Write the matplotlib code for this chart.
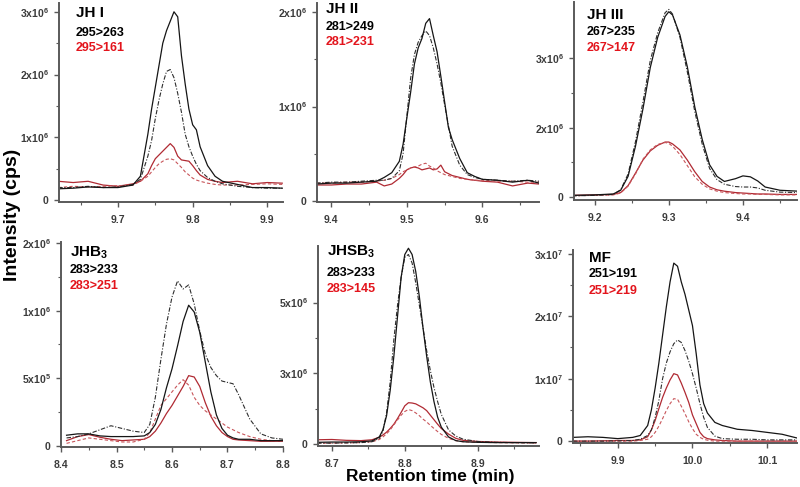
import matplotlib
matplotlib.use("Agg")
import matplotlib.pyplot as plt
from matplotlib.ticker import FixedLocator, FixedFormatter, MultipleLocator

# ── Figure geometry (pixels) ──────────────────────────────────────────────────

W, H = 800, 487

plt.rcParams["font.family"] = ["Liberation Sans", "DejaVu Sans"]
plt.rcParams["mathtext.fontset"] = "custom"
plt.rcParams["mathtext.rm"] = "Liberation Sans:bold"
plt.rcParams["mathtext.it"] = "Liberation Sans:bold"
plt.rcParams["mathtext.bf"] = "Liberation Sans:bold"

BLACK    = "#151515"
BLACK_D  = "#2e2e2e"
RED      = "#b02a33"
RED_D    = "#c8555a"
RED_TEXT = "#e3141c"
AXIS_COL = "#5a5a5a"
TICK_COL = "#3c3c3c"

# ── Data (intensity in units of 10^6 cps, time in min) ───────────────────────

# JH I  (295>263 black, 295>161 red)
jh1_t = [9.62, 9.64, 9.66, 9.68, 9.70, 9.72, 9.73, 9.74, 9.745, 9.75, 9.755,
         9.76, 9.765, 9.77, 9.775, 9.78, 9.785, 9.79, 9.795, 9.80, 9.805,
         9.81, 9.82, 9.83, 9.84, 9.86, 9.88, 9.90, 9.92]
jh1_std_q = [0.18, 0.19, 0.21, 0.20, 0.20, 0.24, 0.38, 1.05, 1.45, 1.80, 2.15,
             2.50, 2.70, 2.85, 3.00, 2.92, 2.30, 1.85, 1.45, 1.20, 1.12,
             0.85, 0.55, 0.38, 0.30, 0.25, 0.20, 0.20, 0.19]
jh1_smp_q = [0.20, 0.20, 0.22, 0.20, 0.21, 0.25, 0.33, 0.70, 0.95, 1.30, 1.60,
             1.85, 2.05, 2.08, 1.95, 1.70, 1.40, 1.05, 0.85, 0.70, 0.57,
             0.47, 0.36, 0.30, 0.26, 0.22, 0.20, 0.19, 0.19]
jh1_std_c = [0.30, 0.28, 0.30, 0.24, 0.22, 0.26, 0.30, 0.42, 0.55, 0.66, 0.72,
             0.78, 0.84, 0.90, 0.84, 0.70, 0.64, 0.63, 0.62, 0.55, 0.47,
             0.40, 0.33, 0.30, 0.28, 0.30, 0.26, 0.28, 0.27]
jh1_smp_c = [0.20, 0.22, 0.21, 0.22, 0.23, 0.24, 0.30, 0.38, 0.45, 0.52, 0.58,
             0.62, 0.65, 0.66, 0.64, 0.58, 0.52, 0.45, 0.40, 0.35, 0.32,
             0.30, 0.27, 0.25, 0.24, 0.24, 0.25, 0.26, 0.25]

# JH II  (281>249 black, 281>231 red)
jh2_t = [9.38, 9.40, 9.42, 9.44, 9.46, 9.47, 9.48, 9.49, 9.495, 9.50, 9.505,
         9.51, 9.515, 9.52, 9.525, 9.53, 9.535, 9.54, 9.545, 9.55, 9.555,
         9.56, 9.57, 9.58, 9.59, 9.60, 9.62, 9.64, 9.66, 9.675]
jh2_std_q = [0.18, 0.19, 0.19, 0.20, 0.21, 0.25, 0.30, 0.42, 0.60, 0.88, 1.15,
             1.45, 1.62, 1.72, 1.88, 1.93, 1.75, 1.58, 1.32, 1.05, 0.78,
             0.65, 0.45, 0.30, 0.26, 0.23, 0.22, 0.20, 0.22, 0.19]
jh2_smp_q = [0.19, 0.20, 0.20, 0.21, 0.22, 0.22, 0.24, 0.32, 0.50, 0.90, 1.30,
             1.55, 1.68, 1.75, 1.80, 1.75, 1.62, 1.45, 1.25, 1.02, 0.80,
             0.58, 0.38, 0.28, 0.25, 0.23, 0.22, 0.21, 0.22, 0.21]
jh2_std_c = [0.17, 0.17, 0.18, 0.18, 0.20, 0.16, 0.18, 0.24, 0.28, 0.33, 0.35,
             0.36, 0.35, 0.33, 0.34, 0.35, 0.33, 0.34, 0.38, 0.31, 0.29,
             0.27, 0.25, 0.23, 0.22, 0.21, 0.20, 0.16, 0.19, 0.18]
jh2_smp_c = [0.19, 0.19, 0.20, 0.20, 0.21, 0.22, 0.24, 0.28, 0.31, 0.33, 0.35,
             0.36, 0.37, 0.39, 0.40, 0.37, 0.35, 0.32, 0.30, 0.28, 0.27,
             0.26, 0.24, 0.23, 0.22, 0.22, 0.21, 0.21, 0.20, 0.20]

# JH III  (267>235 black, 267>147 red)
jh3_t = [9.17, 9.20, 9.225, 9.235, 9.245, 9.255, 9.265, 9.275, 9.285, 9.295,
         9.30, 9.305, 9.315, 9.325, 9.335, 9.345, 9.355, 9.365, 9.375, 9.39,
         9.40, 9.41, 9.42, 9.43, 9.45, 9.475]
jh3_std_q = [0.04, 0.05, 0.07, 0.15, 0.45, 1.10, 1.90, 2.80, 3.45, 3.90,
             4.00, 3.93, 3.50, 2.81, 1.95, 1.25, 0.70, 0.45, 0.34, 0.40,
             0.46, 0.44, 0.35, 0.22, 0.15, 0.13]
jh3_smp_q = [0.03, 0.04, 0.06, 0.16, 0.50, 1.20, 2.05, 2.95, 3.55, 3.98,
             4.05, 3.95, 3.45, 2.70, 1.85, 1.15, 0.62, 0.38, 0.28, 0.23,
             0.22, 0.22, 0.20, 0.15, 0.11, 0.10]
jh3_std_c = [0.04, 0.05, 0.06, 0.10, 0.25, 0.52, 0.80, 1.00, 1.12, 1.19,
             1.19, 1.15, 1.02, 0.80, 0.55, 0.34, 0.22, 0.16, 0.13, 0.10,
             0.09, 0.08, 0.07, 0.07, 0.06, 0.06]
jh3_smp_c = [0.03, 0.04, 0.05, 0.09, 0.24, 0.50, 0.82, 1.02, 1.14, 1.18,
             1.16, 1.10, 0.92, 0.68, 0.44, 0.28, 0.18, 0.13, 0.10, 0.08,
             0.07, 0.07, 0.06, 0.06, 0.05, 0.05]

# JHB3  (283>233 black, 283>251 red)
jhb3_t = [8.41, 8.43, 8.45, 8.47, 8.49, 8.51, 8.53, 8.55, 8.56, 8.57, 8.58,
          8.59, 8.60, 8.61, 8.62, 8.63, 8.64, 8.65, 8.66, 8.67, 8.68, 8.69,
          8.70, 8.71, 8.72, 8.74, 8.76, 8.78, 8.80]
jhb3_std_q = [0.08, 0.09, 0.09, 0.075, 0.07, 0.07, 0.07, 0.075, 0.10, 0.16,
              0.27, 0.43, 0.57, 0.74, 0.92, 1.04, 0.99, 0.84, 0.62, 0.40,
              0.23, 0.13, 0.08, 0.06, 0.05, 0.05, 0.04, 0.04, 0.04]
jhb3_smp_q = [0.06, 0.07, 0.09, 0.12, 0.15, 0.13, 0.11, 0.10, 0.16, 0.36,
              0.64, 0.90, 1.10, 1.22, 1.16, 1.19, 1.05, 0.85, 0.68, 0.58,
              0.52, 0.48, 0.47, 0.46, 0.38, 0.20, 0.09, 0.06, 0.05]
jhb3_std_c = [0.04, 0.07, 0.085, 0.065, 0.05, 0.04, 0.045, 0.05, 0.07, 0.11,
              0.17, 0.24, 0.30, 0.37, 0.44, 0.52, 0.51, 0.44, 0.32, 0.22,
              0.15, 0.10, 0.07, 0.05, 0.045, 0.04, 0.035, 0.035, 0.035]
jhb3_smp_c = [0.02, 0.04, 0.06, 0.05, 0.04, 0.03, 0.03, 0.05, 0.10, 0.20,
              0.30, 0.35, 0.40, 0.45, 0.49, 0.45, 0.36, 0.30, 0.26, 0.23,
              0.20, 0.17, 0.14, 0.12, 0.10, 0.07, 0.05, 0.04, 0.035]

# JHSB3  (283>233 black, 283>145 red)
jhsb3_t = [8.68, 8.70, 8.72, 8.74, 8.755, 8.765, 8.77, 8.775, 8.78, 8.785,
           8.79, 8.795, 8.80, 8.805, 8.81, 8.815, 8.82, 8.825, 8.83, 8.835,
           8.84, 8.845, 8.85, 8.86, 8.87, 8.88, 8.90, 8.925, 8.95, 8.98]
jhsb3_std_q = [0.06, 0.07, 0.07, 0.08, 0.11, 0.25, 0.50, 1.00, 1.90, 3.10,
               4.50, 5.90, 6.70, 6.92, 6.70, 6.10, 5.20, 4.10, 3.10, 2.20,
               1.50, 0.95, 0.60, 0.25, 0.12, 0.08, 0.06, 0.05, 0.05, 0.05]
jhsb3_smp_q = [0.03, 0.03, 0.04, 0.05, 0.08, 0.20, 0.45, 1.10, 2.20, 3.70,
               4.90, 5.90, 6.60, 6.70, 6.40, 5.70, 4.90, 4.10, 3.30, 2.60,
               2.00, 1.50, 1.05, 0.50, 0.28, 0.17, 0.09, 0.06, 0.05, 0.04]
jhsb3_std_c = [0.15, 0.16, 0.13, 0.12, 0.15, 0.24, 0.32, 0.42, 0.55, 0.70,
               0.90, 1.12, 1.35, 1.46, 1.45, 1.42, 1.35, 1.28, 1.18, 1.02,
               0.86, 0.70, 0.55, 0.35, 0.20, 0.13, 0.09, 0.07, 0.06, 0.05]
jhsb3_smp_c = [0.03, 0.03, 0.04, 0.05, 0.08, 0.16, 0.25, 0.36, 0.50, 0.68,
               0.85, 1.02, 1.15, 1.22, 1.18, 1.10, 1.00, 0.88, 0.78, 0.66,
               0.55, 0.44, 0.34, 0.20, 0.12, 0.08, 0.06, 0.05, 0.04, 0.04]

# MF  (251>191 black, 251>219 red)
mf_t = [9.84, 9.86, 9.88, 9.90, 9.92, 9.93, 9.94, 9.945, 9.95, 9.955, 9.96,
        9.965, 9.97, 9.975, 9.98, 9.985, 9.99, 9.995, 10.0, 10.005, 10.01,
        10.015, 10.02, 10.03, 10.04, 10.06, 10.08, 10.10, 10.12, 10.14]
mf_std_q = [0.6, 0.7, 0.6, 0.4, 0.6, 0.9, 2.5, 5.0, 8.5, 12.5, 17.0,
            21.5, 25.5, 28.5, 28.0, 25.5, 23.5, 21.0, 18.5, 14.0, 9.0,
            6.0, 4.5, 3.0, 2.5, 1.9, 1.7, 1.4, 1.1, 0.5]
mf_smp_q = [0.0, 0.0, 0.0, 0.05, 0.1, 0.3, 0.9, 1.8, 3.8, 6.5, 10.0,
            12.5, 14.3, 15.6, 16.2, 15.8, 14.5, 12.8, 10.8, 8.5, 6.0,
            3.8, 2.2, 0.8, 0.4, 0.3, 0.3, 0.2, 0.2, 0.2]
mf_std_c = [0.0, 0.0, 0.05, 0.1, 0.1, 0.2, 0.7, 1.8, 3.3, 5.2, 7.0,
            8.5, 9.8, 10.8, 10.6, 9.3, 7.8, 6.2, 4.2, 2.8, 1.4,
            0.7, 0.4, 0.2, 0.1, 0.0, 0.0, 0.0, 0.0, 0.0]
mf_smp_c = [0.0, 0.0, 0.0, 0.0, 0.0, 0.1, 0.3, 0.7, 1.4, 2.4, 3.6,
            4.9, 6.0, 6.8, 6.7, 5.6, 4.4, 3.1, 2.0, 1.1, 0.6,
            0.3, 0.15, 0.0, 0.0, 0.0, 0.0, 0.0, 0.0, 0.0]

names       = ["JH I", "JH II", "JH III", "JHB$_3$", "JHSB$_3$", "MF"]
quant_ions  = ["295>263", "281>249", "267>235", "283>233", "283>233", "251>191"]
qual_ions   = ["295>161", "281>231", "267>147", "283>251", "283>145", "251>219"]

x_ticks = [[9.7, 9.8, 9.9], [9.4, 9.5, 9.6], [9.2, 9.3, 9.4],
           [8.4, 8.5, 8.6, 8.7, 8.8], [8.7, 8.8, 8.9], [9.9, 10.0, 10.1]]
y_ticks = [[0, 1, 2, 3], [0, 1, 2], [0, 1.5, 3], [0, 0.5, 1.0, 1.5],
           [0, 2.5, 5.0], [0, 10, 20, 30]]
y_labels = [["0", "1x10$^6$", "2x10$^6$", "3x10$^6$"],
            ["0", "1x10$^6$", "2x10$^6$"],
            ["0", "2x10$^6$", "3x10$^6$"],
            ["0", "5x10$^5$", "1x10$^6$", "2x10$^6$"],
            ["0", "3x10$^6$", "5x10$^6$"],
            ["0", "1x10$^7$", "2x10$^7$", "3x10$^7$"]]

# ── Layout: axes boxes in pixels (left, top, right, bottom) and limits ────────

boxes = [(59, 3, 283, 202), (317, 3, 539, 202), (574, 2, 797, 200),
         (61, 242, 283, 447), (318, 246, 539, 446), (573, 250, 797, 443)]
xlims = [(9.621, 9.921), (9.381, 9.675), (9.172, 9.473),
         (8.40, 8.80), (8.681, 8.984), (9.84, 10.14)]
ylims = [(-0.03, 3.14), (-0.01, 2.095), (-0.06, 4.21),
         (-0.007, 1.507), (-0.07, 7.0), (-0.3, 30.6)]
# label anchor (left x, name y, quant y, qual y) in pixels
text_pos = [(76, 13, 33, 48), (326, 9, 27, 42), (587, 15, 32, 48),
            (70, 253, 270, 286), (327, 252, 273, 289), (589, 258, 274, 291)]


def px_axes(fig, box):
    left, top, right, bottom = box
    return fig.add_axes([left / W, 1 - bottom / H,
                         (right - left) / W, (bottom - top) / H])


def fig_text(fig, x, y, s, **kw):
    fig.text(x / W, 1 - y / H, s, va="center", ha="left", **kw)


def main():
    fig = plt.figure(figsize=(W / 100, H / 100), dpi=100)

    series = [
        (jh1_t, jh1_std_q, jh1_smp_q, jh1_std_c, jh1_smp_c),
        (jh2_t, jh2_std_q, jh2_smp_q, jh2_std_c, jh2_smp_c),
        (jh3_t, jh3_std_q, jh3_smp_q, jh3_std_c, jh3_smp_c),
        (jhb3_t, jhb3_std_q, jhb3_smp_q, jhb3_std_c, jhb3_smp_c),
        (jhsb3_t, jhsb3_std_q, jhsb3_smp_q, jhsb3_std_c, jhsb3_smp_c),
        (mf_t, mf_std_q, mf_smp_q, mf_std_c, mf_smp_c),
    ]

    for i, (t, std_q, smp_q, std_c, smp_c) in enumerate(series):
        ax = px_axes(fig, boxes[i])

        ax.plot(t, std_c, color=RED, lw=0.9)
        ax.plot(t, smp_c, color=RED_D, lw=0.8, dashes=(3, 2))
        ax.plot(t, smp_q, color=BLACK_D, lw=0.8, dashes=(4, 1.5, 1, 1.5))
        ax.plot(t, std_q, color=BLACK, lw=0.9)

        ax.set_xlim(*xlims[i])
        ax.set_ylim(*ylims[i])

        for side in ("top", "right"):
            ax.spines[side].set_visible(False)
        for side in ("left", "bottom"):
            ax.spines[side].set_color(AXIS_COL)
            ax.spines[side].set_linewidth(1.4)

        ax.xaxis.set_major_locator(FixedLocator(x_ticks[i]))
        ax.xaxis.set_minor_locator(MultipleLocator(0.05))
        ax.xaxis.set_major_formatter(FixedFormatter([f"{v:.1f}" for v in x_ticks[i]]))
        yt = y_ticks[i]
        ax.yaxis.set_major_locator(FixedLocator(yt))
        ax.yaxis.set_minor_locator(FixedLocator([(a + b) / 2 for a, b in zip(yt[:-1], yt[1:])]))
        ax.yaxis.set_major_formatter(FixedFormatter(y_labels[i]))

        ax.tick_params(which="major", direction="out", length=3.5, width=1.0,
                       color=AXIS_COL, labelsize=7.5, labelcolor=TICK_COL, pad=4)
        ax.tick_params(which="minor", direction="out", length=2, width=0.8,
                       color=AXIS_COL)
        ax.tick_params(axis="x", pad=6)
        for lab in ax.get_xticklabels() + ax.get_yticklabels():
            lab.set_fontweight("bold")

        tx, ny, qy, cy = text_pos[i]
        fig_text(fig, tx, ny, names[i], fontsize=11, fontweight="bold", color="black")
        fig_text(fig, tx, qy, quant_ions[i], fontsize=9, fontweight="bold", color="black")
        fig_text(fig, tx, cy, qual_ions[i], fontsize=9, fontweight="bold", color=RED_TEXT)

    fig.text(13 / W, 1 - 215 / H, "Intensity (cps)", rotation=90, ha="center",
             va="center", fontsize=14, fontweight="bold")
    fig.text(430 / W, 1 - 477 / H, "Retention time (min)", ha="center",
             va="center", fontsize=12.5, fontweight="bold")

    fig.savefig("out.png", dpi=100)
    plt.close(fig)


if __name__ == "__main__":
    main()
